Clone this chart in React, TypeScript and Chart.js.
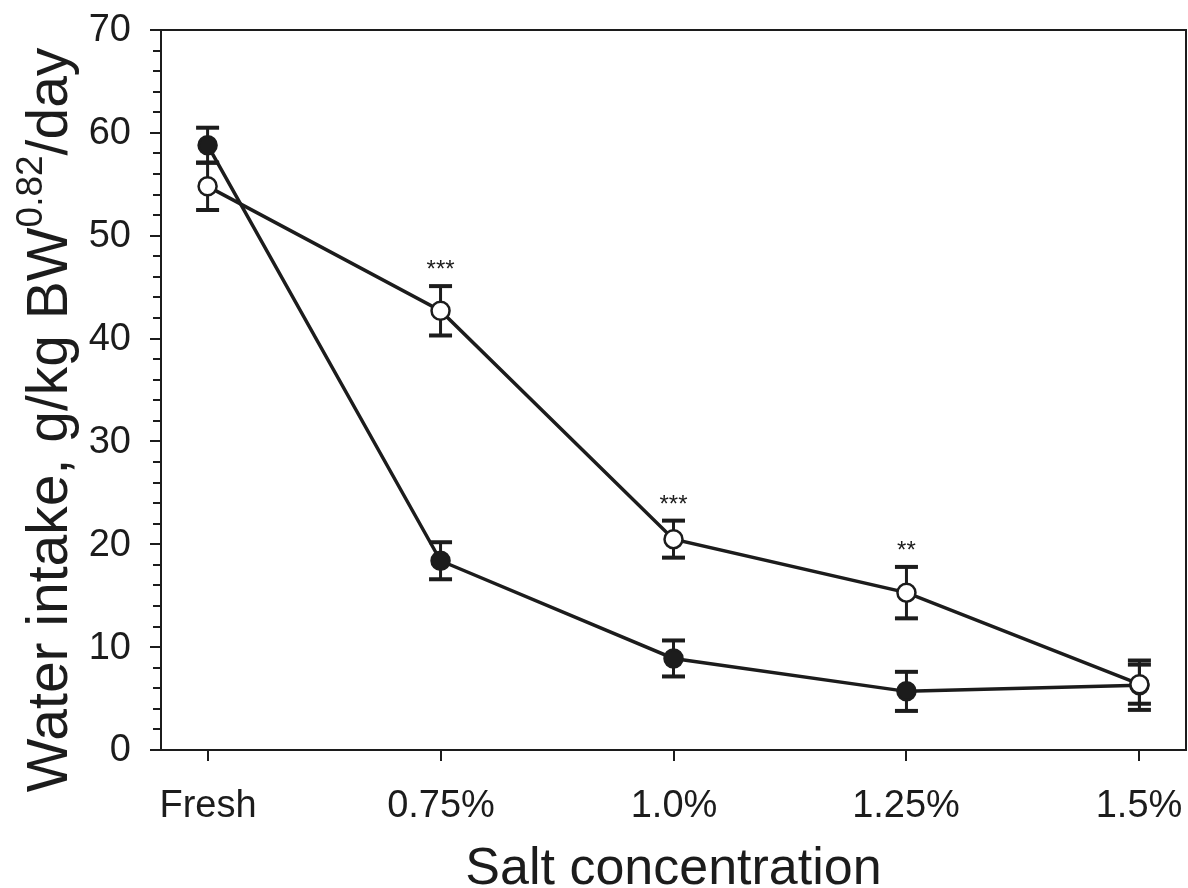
import React, { useEffect, useRef } from 'react';
import { Chart, registerables } from 'chart.js';

Chart.register(...registerables);

// Salt concentration levels on the x axis
const categories = ['Fresh', '0.75%', '1.0%', '1.25%', '1.5%'];

// Filled-circle series: mean water intake and its standard error
const filledMean = [58.8, 18.4, 8.9, 5.7, 6.3];
const filledSem = [1.7, 1.8, 1.75, 1.9, 2.4];

// Open-circle series: mean water intake and its standard error
const openMean = [54.8, 42.7, 20.5, 15.3, 6.4];
const openSem = [2.3, 2.4, 1.8, 2.5, 1.9];

// Significance marks placed above the open-circle series
const significance = ['', '***', '***', '**', ''];

// Y axis tick labels (major) and minor tick spacing
const yMajorTicks = [0, 10, 20, 30, 40, 50, 60, 70];
const yMinorStep = 2;

const INK = '#1c1c1c';
const FONT = "'Liberation Sans', Arial, Helvetica, sans-serif";

function strokeLine(ctx: CanvasRenderingContext2D, x1: number, y1: number, x2: number, y2: number) {
  ctx.beginPath();
  ctx.moveTo(x1, y1);
  ctx.lineTo(x2, y2);
  ctx.stroke();
}

const extrasPlugin = {
  id: 'extras',
  beforeDatasetsDraw(chart: any) {
    const { ctx, scales } = chart;
    const x = scales.x;
    const y = scales.y;
    const series = [
      { mean: openMean, sem: openSem },
      { mean: filledMean, sem: filledSem },
    ];
    ctx.save();
    ctx.strokeStyle = INK;
    ctx.lineCap = 'butt';
    series.forEach((s) => {
      s.mean.forEach((m, i) => {
        const px = x.getPixelForValue(i);
        const top = y.getPixelForValue(m + s.sem[i]);
        const bot = y.getPixelForValue(m - s.sem[i]);
        ctx.lineWidth = 3;
        strokeLine(ctx, px, top, px, bot);
        ctx.lineWidth = 4;
        strokeLine(ctx, px - 11.5, top, px + 11.5, top);
        strokeLine(ctx, px - 11.5, bot, px + 11.5, bot);
      });
    });
    ctx.restore();
  },
  afterDraw(chart: any) {
    const { ctx, chartArea, scales } = chart;
    const { left, right, top, bottom } = chartArea;
    const x = scales.x;
    const y = scales.y;
    ctx.save();
    ctx.strokeStyle = INK;
    ctx.fillStyle = INK;

    // Frame around the plotting area
    ctx.lineWidth = 2;
    ctx.strokeRect(left, top, right - left, bottom - top);

    // Y ticks: long at labelled values, short in between
    for (let v = yMajorTicks[0]; v <= yMajorTicks[yMajorTicks.length - 1]; v += yMinorStep) {
      const py = Math.round(y.getPixelForValue(v));
      const len = v % 10 === 0 ? 11 : 8;
      strokeLine(ctx, left - len, py, left, py);
    }

    // Y tick labels
    ctx.font = `38px ${FONT}`;
    ctx.textAlign = 'right';
    ctx.textBaseline = 'middle';
    yMajorTicks.forEach((v) => {
      ctx.fillText(String(v), left - 30, y.getPixelForValue(v) + 1);
    });

    // X ticks and labels below the axis
    ctx.textAlign = 'center';
    ctx.textBaseline = 'alphabetic';
    categories.forEach((label, i) => {
      const px = Math.round(x.getPixelForValue(i));
      strokeLine(ctx, px, bottom, px, bottom + 11);
      ctx.fillText(label, px, bottom + 67);
    });

    // Significance asterisks
    ctx.font = `24px ${FONT}`;
    significance.forEach((mark, i) => {
      if (!mark) return;
      const px = x.getPixelForValue(i);
      const capY = y.getPixelForValue(openMean[i] + openSem[i]);
      ctx.fillText(mark, px, capY - 9);
    });

    // X axis title
    ctx.font = `52px ${FONT}`;
    ctx.fillText('Salt concentration', (left + right) / 2, 884);

    // Y axis title with superscript exponent
    const mainSize = 57;
    const supSize = 37;
    const partA = 'Water intake, g/kg BW';
    const sup = '0.82';
    const partB = '/day';
    ctx.font = `${mainSize}px ${FONT}`;
    const wA = ctx.measureText(partA).width;
    const wB = ctx.measureText(partB).width;
    ctx.font = `${supSize}px ${FONT}`;
    const wS = ctx.measureText(sup).width;
    const total = wA + wS + wB;
    ctx.translate(67, 420);
    ctx.rotate(-Math.PI / 2);
    ctx.textAlign = 'left';
    let cx = -total / 2;
    ctx.font = `${mainSize}px ${FONT}`;
    ctx.fillText(partA, cx, 0);
    cx += wA;
    ctx.font = `${supSize}px ${FONT}`;
    ctx.fillText(sup, cx, -25);
    cx += wS;
    ctx.font = `${mainSize}px ${FONT}`;
    ctx.fillText(partB, cx, 0);

    ctx.restore();
  },
};

export default function App() {
  const canvasRef = useRef<HTMLCanvasElement | null>(null);

  useEffect(() => {
    const canvas = canvasRef.current;
    if (!canvas) return;

    const lineStyle = {
      borderColor: INK,
      borderWidth: 3.5,
      pointRadius: 9,
      pointBorderWidth: 2.5,
      pointBorderColor: INK,
      pointHoverRadius: 9,
      tension: 0,
      fill: false,
    };

    const chart = new Chart(canvas, {
      type: 'line',
      data: {
        datasets: [
          {
            label: 'Open',
            data: openMean.map((v, i) => ({ x: i, y: v })),
            pointBackgroundColor: '#ffffff',
            ...lineStyle,
          },
          {
            label: 'Filled',
            data: filledMean.map((v, i) => ({ x: i, y: v })),
            pointBackgroundColor: INK,
            ...lineStyle,
          },
        ],
      },
      options: {
        responsive: false,
        animation: false,
        layout: { autoPadding: false, padding: { left: 0, right: 2, top: 30, bottom: 0 } },
        plugins: {
          legend: { display: false },
          tooltip: { enabled: false },
        },
        scales: {
          x: {
            type: 'linear',
            min: -0.2,
            max: 4.2,
            afterBuildTicks: (scale: any) => {
              scale.ticks = categories.map((_, i) => ({ value: i }));
            },
            afterFit: (scale: any) => {
              scale.height = 138;
            },
            ticks: { display: false },
            grid: { display: false, drawTicks: false },
            border: { display: false },
          },
          y: {
            type: 'linear',
            min: 0,
            max: 70,
            afterBuildTicks: (scale: any) => {
              scale.ticks = yMajorTicks.map((v) => ({ value: v }));
            },
            afterFit: (scale: any) => {
              scale.width = 161;
            },
            ticks: { display: false },
            grid: { display: false, drawTicks: false },
            border: { display: false },
          },
        },
      },
      plugins: [extrasPlugin],
    } as any);

    return () => chart.destroy();
  }, []);

  return (
    <div style={{ position: 'fixed', left: 0, top: 0, width: 1188, height: 888, background: '#ffffff' }}>
      <canvas ref={canvasRef} width={1188} height={888} style={{ display: 'block' }} />
    </div>
  );
}
